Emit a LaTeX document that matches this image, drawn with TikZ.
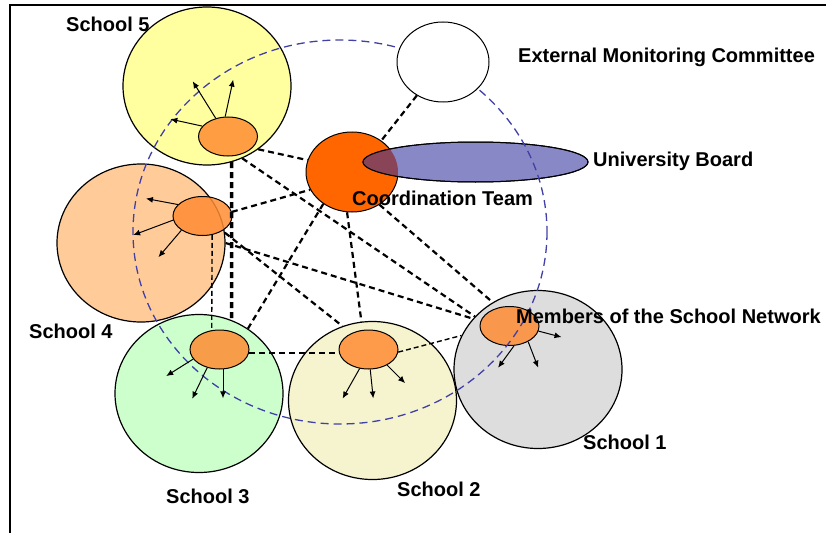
\documentclass[tikz,border=0pt]{standalone}
\usepackage{fontspec}
\setmainfont{Liberation Sans}
\usetikzlibrary{shapes.geometric, arrows.meta}

\definecolor{schoolA}{HTML}{DDDDDD}
\definecolor{schoolB}{HTML}{F6F4CF}
\definecolor{schoolC}{HTML}{CCFFCC}
\definecolor{schoolD}{HTML}{FFCC99}
\definecolor{schoolE}{HTML}{FFFF9F}
\definecolor{member}{HTML}{FF8C33}
\definecolor{coord}{HTML}{FF6600}
\definecolor{board}{HTML}{8888C6}
\definecolor{overlap}{HTML}{8A4458}
\definecolor{ring}{HTML}{4040A8}

\begin{document}
\begin{tikzpicture}[x=1pt, y=-1pt,
  school/.style = {draw, ellipse, line width=1.2pt, minimum width=168pt, minimum height=158pt, inner sep=0pt},
  memb/.style = {draw, ellipse, line width=1pt, fill=member, fill opacity=0.85, minimum width=59pt, minimum height=39pt, inner sep=0pt},
  link/.style = {line width=2.2pt, dash pattern=on 6pt off 4pt},
  thinlink/.style = {line width=1.4pt, dash pattern=on 5pt off 3pt},
  arr/.style = {-{Latex[length=7pt, width=6pt]}, line width=1pt},
  txt/.style = {font=\fontsize{20}{24}\selectfont\bfseries, inner sep=0pt, anchor=base west}]
\useasboundingbox (0,0) rectangle (826,532);
\draw[line width=2pt] (10,5) rectangle (840,545);

% schools
\node[school, fill=schoolA] (s1) at (538,369.5) {};
\node[school, fill=schoolB] (s2) at (372.5,400.5) {};
\node[school, fill=schoolC] (s3) at (199,393.5) {};
\node[school, fill=schoolD] (s4) at (141,243) {};
\node[school, fill=schoolE] (s5) at (207,86) {};

% members of the network
\node[memb] (m1) at (509.5,326) {};
\node[memb] (m2) at (368.5,349.5) {};
\node[memb] (m3) at (219.5,349.5) {};
\node[memb] (m4) at (202.5,216) {};
\node[memb] (m5) at (228,136.5) {};

% coordination team and board
\node[draw, ellipse, line width=1pt, fill=coord, minimum width=92pt, minimum height=80pt, inner sep=0pt] (ct) at (352,172) {};
\node[draw, ellipse, line width=1pt, fill=board, minimum width=225pt, minimum height=40pt, inner sep=0pt] (ub) at (475.5,162) {};
\begin{scope}
\clip (ct.center) ellipse [x radius=46, y radius=40];
\fill[overlap] (ub.center) ellipse [x radius=112.5, y radius=20];
\end{scope}
\draw[line width=1pt] (ub.center) ellipse [x radius=112.5, y radius=20];

% network ring
\draw[ring, line width=1.3pt, dash pattern=on 8pt off 5pt] (340,232) ellipse [x radius=207, y radius=192];
\node[draw, ellipse, line width=1pt, fill=white, minimum width=92pt, minimum height=80pt, inner sep=0pt] (emc) at (443,62) {};

% links
\draw[link] (emc.232) -- (ct.47);
\draw[link] (s5.-51) -- (ct.165);
\draw[link] (s5.-64) -- (s1.140);
\draw[link, line width=3.5pt] (s5.-72) -- (s3.66);
\draw[link] (m4.8) -- (ct.203);
\draw[link] (s4.7) -- (s2.112);
\draw[link] (s4.0) -- (s1.142);
\draw[thinlink] (m4.-63) -- (m3.112);
\draw[link] (ct.228) -- (s3.53);
\draw[link] (ct.263) -- (s2.98);
\draw[link] (ct.-50) -- (s1.124);
\draw[link] (m3.-7) -- (m2.187);
\draw[thinlink] (m2.-5) -- (s1.156);

% arrows out of the members
\foreach \a/\dx/\dy in {124/-23/-37, 98/8/-37, 158/-32/-7}
  \draw[arr] (m5.\a) -- ++(\dx,\dy);
\foreach \a/\dx/\dy in {155/-32/-6, 188/-40/15, 214/-23/27}
  \draw[arr] (m4.\a) -- ++(\dx,\dy);
\foreach \a/\dx/\dy in {200/-27/17, 236/-15/31, 280/0/29}
  \draw[arr] (m3.\a) -- ++(\dx,\dy);
\foreach \a/\dx/\dy in {245/-17/30, 275/3/29, 320/18/18}
  \draw[arr] (m2.\a) -- ++(\dx,\dy);
\foreach \a/\dx/\dy in {-10/23/6, 283/-16/22, 320/10/26}
  \draw[arr] (m1.\a) -- ++(\dx,\dy);

% labels
\node[txt] (l5) at (66,32) {School 5};
\node[txt] (l4) at (29,338) {School 4};
\node[txt] (l3) at (166,503) {School 3};
\node[txt] (l2) at (397,496) {School 2};
\node[txt] (l1) at (583,449) {School 1};
\node[txt] (lemc) at (518,63) {External Monitoring Committee};
\node[txt] (lub) at (593,166) {University Board};
\node[txt] (lct) at (352,205) {Coordination Team};
\node[txt] (lm) at (516,323) {Members of the School Network};
\end{tikzpicture}
\end{document}
